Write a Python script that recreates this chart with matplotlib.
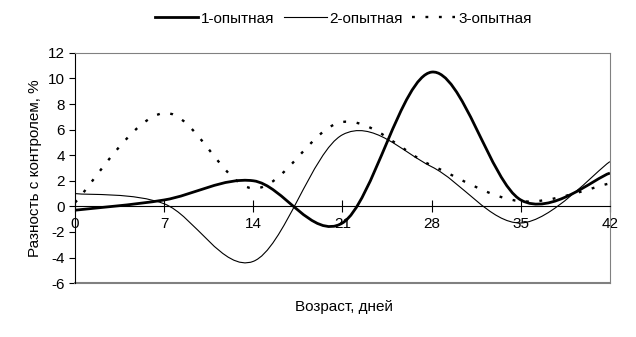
import matplotlib.pyplot as plt
from matplotlib.path import Path
from matplotlib.patches import PathPatch
from matplotlib.lines import Line2D

plt.rcParams['font.family'] = ['Liberation Sans', 'DejaVu Sans']
plt.rcParams['axes.unicode_minus'] = False

# data
days = [0, 7, 14, 21, 28, 35, 42]
s1 = [-0.3, 0.5, 2.0, -1.3, 10.5, 0.5, 2.6]
s2 = [1.0, 0.2, -4.3, 5.6, 3.1, -1.3, 3.5]
s3 = [0.3, 7.3, 1.4, 6.6, 3.2, 0.4, 1.8]
names = ['1-опытная', '2-опытная', '3-опытная']
yticks = list(range(-6, 13, 2))


def smooth_path(x, y):
    # Excel-like smoothed line: cubic Bezier segments with Catmull-Rom tangents
    pts = list(zip(x, y))
    verts = [pts[0]]
    codes = [Path.MOVETO]
    n = len(pts)
    for i in range(n - 1):
        p0 = pts[max(i - 1, 0)]
        p1 = pts[i]
        p2 = pts[i + 1]
        p3 = pts[min(i + 2, n - 1)]
        c1 = (p1[0] + (p2[0] - p0[0]) / 6, p1[1] + (p2[1] - p0[1]) / 6)
        c2 = (p2[0] - (p3[0] - p1[0]) / 6, p2[1] - (p3[1] - p1[1]) / 6)
        verts += [c1, c2, p2]
        codes += [Path.CURVE4] * 3
    return Path(verts, codes)


fig = plt.figure(figsize=(6.36, 3.37), dpi=100)
ax = fig.add_axes([0.118, 0.160, 0.841, 0.683])

styles = [dict(lw=2.0, ls='-'), dict(lw=0.8, ls='-'), dict(lw=1.7, ls=(0, (1.2, 4.5)))]
handles = []
for ys, st, nm in zip([s1, s2, s3], styles, names):
    patch = PathPatch(smooth_path(days, ys), facecolor='none', edgecolor='black',
                      linewidth=st['lw'], linestyle=st['ls'])
    ax.add_patch(patch)
    handles.append(Line2D([], [], color='black', lw=st['lw'], ls=st['ls']))

ax.set_xlim(0, 42)
ax.set_ylim(-6, 12)
ax.set_xticks(days)
ax.set_yticks(yticks)
ax.tick_params(labelsize=11)

ax.spines['bottom'].set_position(('data', 0))
ax.spines['bottom'].set_color('black')
ax.spines['left'].set_color('black')
ax.spines['top'].set_color('grey')
ax.spines['right'].set_color('grey')
ax.axhline(-6, color='grey', lw=1.5, clip_on=False)
ax.tick_params(axis='x', direction='inout', length=8, pad=4)
ax.tick_params(axis='y', direction='out', length=4)

ax.set_ylabel('Разность с контролем, %', fontsize=11)
fig.text(0.54, 0.09, 'Возраст, дней', ha='center', va='center', fontsize=11)

fig.legend(handles, names, loc='center', bbox_to_anchor=(0.54, 0.945), ncol=3,
           frameon=False, fontsize=11, handlelength=2.8, columnspacing=0.6,
           handletextpad=0.2)

fig.savefig('out.png', dpi=100)
